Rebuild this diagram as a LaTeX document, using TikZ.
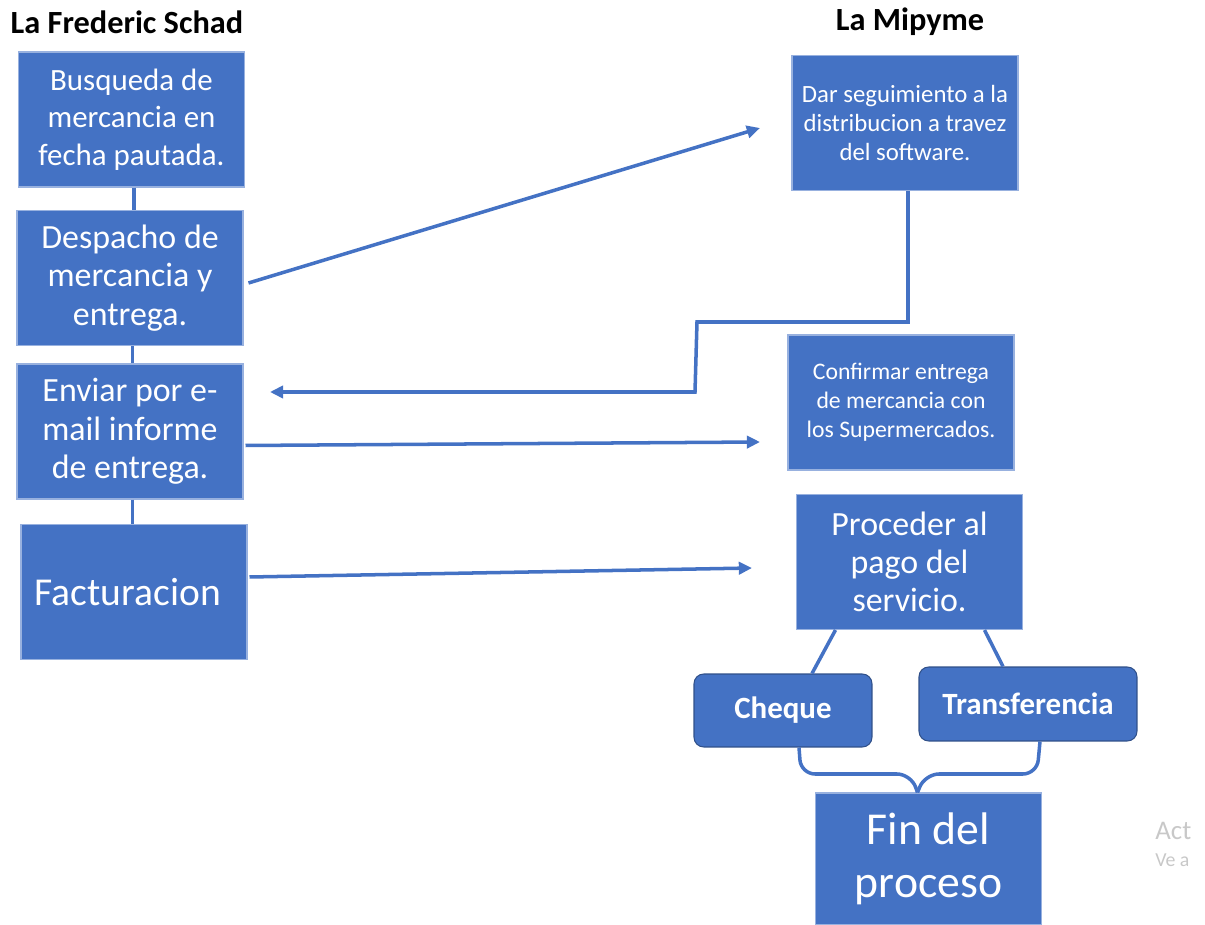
\documentclass[tikz,border=0pt]{standalone}
\usepackage{fontspec}
\setmainfont{Carlito}
\usetikzlibrary{arrows.meta}
\definecolor{boxblue}{HTML}{4472C4}
\definecolor{wmgray}{HTML}{C8C8C8}
\def\boxwd{4.52cm}
\def\boxht{2.7cm}

\begin{document}
\begin{tikzpicture}[x=0.02cm,y=-0.02cm]
    \tikzstyle{box}=[rectangle,fill=boxblue,draw=white!45!boxblue,line width=0.6pt,text=white,align=center,minimum width=\boxwd,minimum height=\boxht,inner sep=0pt]
    \tikzstyle{option}=[box,rounded corners=5.5pt,draw=boxblue!70!black,minimum height=1.46cm,font=\fontsize{17.6}{21}\selectfont\bfseries]
    \tikzstyle{title}=[font=\fontsize{18.4}{22}\selectfont\bfseries,inner sep=0pt]
    \tikzstyle{flow}=[draw=boxblue,line width=2pt]
    \tikzstyle{flow arrow}=[flow,-{Triangle[length=7.5pt,width=7pt]}]
    \tikzstyle{watermark}=[anchor=west,text=wmgray,inner sep=0pt]

    \useasboundingbox (0,0) rectangle (1205,925);

    % Titles of both columns
    \node[title] (T-L) at (127,22) {La Frederic Schad};
    \node[title] (T-R) at (910,22) {La Mipyme};

    % Draw the left column boxes
    \node[box,font=\fontsize{17.6}{21.3}\selectfont] (L-1) at (131.5,119.5) {Busqueda de\\mercancia en\\fecha pautada.};
    \node[box,font=\fontsize{19.3}{21.8}\selectfont] (L-2) at (130,278) {Despacho de\\mercancia y\\entrega.};
    \node[box,font=\fontsize{19.3}{21.8}\selectfont] (L-3) at (130,431.5) {Enviar por e-\\mail informe\\de entrega.};
    \node[box,font=\fontsize{22.5}{26}\selectfont] (L-4) at (134,592) {Facturacion\hspace*{7pt}};

    % Draw the right column boxes
    \node[box,font=\fontsize{14.1}{16.4}\selectfont] (R-1) at (905,123) {Dar seguimiento a la\\distribucion a travez\\del software.};
    \node[box,font=\fontsize{13.5}{16.4}\selectfont] (R-2) at (901,402.5) {Confirmar entrega\\de mercancia con\\los Supermercados.};
    \node[box,font=\fontsize{19.3}{21.5}\selectfont] (R-3) at (909.5,562) {Proceder al\\pago del\\servicio.};
    \node[option,minimum width=3.56cm] (P-1) at (783,710.5) {Cheque};
    \node[option,minimum width=4.36cm,minimum height=1.48cm] (P-2) at (1028,704) {Transferencia};
    \node[box,minimum height=2.64cm,font=\fontsize{26}{30}\selectfont] (F) at (928.5,859) {Fin del\\proceso};

    % Watermark text in the corner
    \node[watermark,font=\fontsize{15.3}{18}\selectfont] (W-1) at (1155,831) {Act};
    \node[watermark,font=\fontsize{11.3}{13}\selectfont] (W-2) at (1155,860) {Ve a};

    % Connect the left column boxes
    \foreach \source/\dest in {1/2,2/3,3/4}
        \draw[flow] ([shift={(2.5,0)}]L-\source.south) -- ([shift={(2.5,0)}]L-\source.south |- L-\dest.north);

    % Arrows between the two columns
    \coordinate (A-1) at (760,128);
    \draw[flow arrow] ([shift={(5,5)}]L-2.east) -- (A-1);

    \coordinate (K-1) at (697,322);
    \coordinate (K-2) at (695,392);
    \coordinate (A-2) at (270,392);
    \draw[flow arrow] ([shift={(3,0)}]R-1.south) |- (K-1) -- (K-2) -- (A-2);

    \coordinate (A-3) at (760,442);
    \draw[flow arrow] ([shift={(2,14)}]L-3.east) -- (A-3);

    \coordinate (A-4) at (752,568);
    \draw[flow arrow] ([shift={(2,-15)}]L-4.east) -- (A-4);

    % Payment options
    \draw[flow] ([shift={(-74,0)}]R-3.south) -- ([shift={(29,0)}]P-1.north);
    \draw[flow] ([shift={(75,0)}]R-3.south) -- ([shift={(-25,0)}]P-2.north);

    % Brace down to the end of the process
    \coordinate (B-1) at (801,774);
    \coordinate (B-2) at (911,774);
    \coordinate (B-3) at (925,774);
    \coordinate (B-4) at (1037,774);
    \draw[flow,rounded corners=8pt] ([shift={(16,0)}]P-1.south) -- (B-1) -- (B-2) -- ([shift={(-11,0)}]F.north);
    \draw[flow,rounded corners=8pt] ([shift={(12,0)}]P-2.south) -- (B-4) -- (B-3) -- ([shift={(-11,0)}]F.north);
\end{tikzpicture}
\end{document}
